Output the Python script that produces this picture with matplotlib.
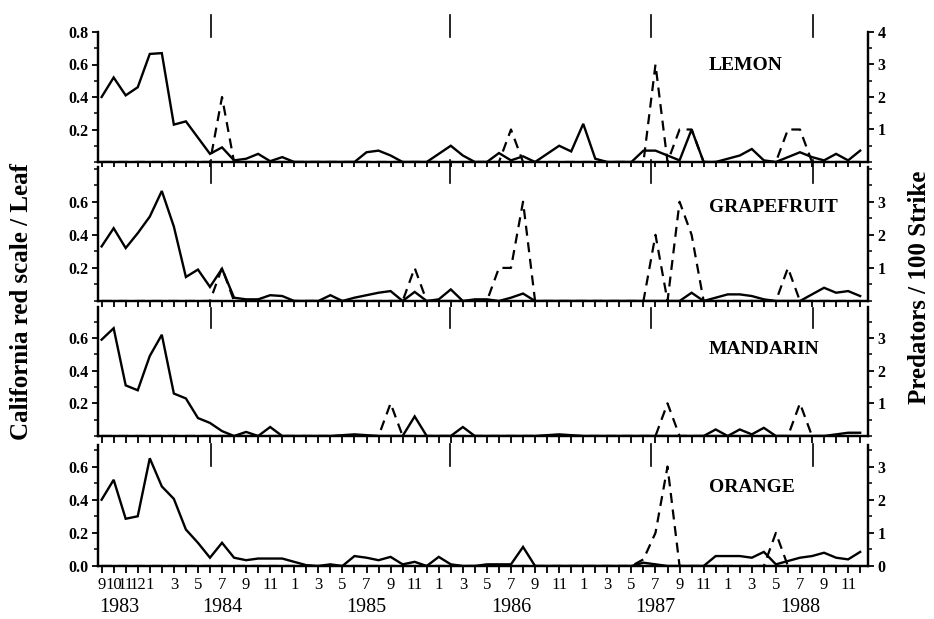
import matplotlib
matplotlib.use("Agg")
import matplotlib.pyplot as plt
import matplotlib.transforms as mtransforms
from matplotlib.ticker import MultipleLocator, FixedLocator
import numpy as np

plt.rcParams['font.family'] = ['Liberation Serif', 'DejaVu Serif']

# months from Sept 1983 (index 0) to Dec 1988 (index 63)
months = np.arange(64)
month_num = [(8 + i) % 12 + 1 for i in months]
year_pos = [1.5, 10, 22, 34, 46, 58]
year_labels = ["1983", "1984", "1985", "1986", "1987", "1988"]
release_marks = [9.1, 28.9, 45.6, 59.1]

crops = ["LEMON", "GRAPEFRUIT", "MANDARIN", "ORANGE"]

# California red scale / leaf (left axis)
lemon_scale = [0.40, 0.52, 0.41, 0.46, 0.665, 0.67, 0.23, 0.25, 0.15, 0.05,
               0.09, 0.01, 0.02, 0.05, 0.005, 0.03, 0.0, 0.0, 0.0, 0.0,
               0.0, 0.0, 0.06, 0.07, 0.04, 0.0, 0.0, 0.0, 0.05, 0.10,
               0.04, 0.0, 0.0, 0.055, 0.01, 0.035, 0.0, 0.05, 0.10, 0.065,
               0.235, 0.02, 0.0, 0.0, 0.0, 0.07, 0.07, 0.04, 0.01, 0.20,
               0.0, 0.0, 0.02, 0.04, 0.08, 0.01, 0.0, 0.03, 0.06, 0.03,
               0.01, 0.05, 0.01, 0.07]
grapefruit_scale = [0.33, 0.44, 0.32, 0.41, 0.51, 0.665, 0.45, 0.145, 0.19, 0.085,
                    0.195, 0.02, 0.01, 0.01, 0.035, 0.03, 0.0, 0.0, 0.0, 0.035,
                    0.0, 0.02, 0.035, 0.05, 0.06, 0.0, 0.055, 0.0, 0.01, 0.07,
                    0.0, 0.01, 0.01, 0.0, 0.02, 0.045, 0.0, 0.0, 0.0, 0.0,
                    0.0, 0.0, 0.0, 0.0, 0.0, 0.0, 0.0, 0.0, 0.0, 0.05,
                    0.0, 0.02, 0.04, 0.04, 0.03, 0.01, 0.0, 0.0, 0.0, 0.04,
                    0.08, 0.05, 0.06, 0.03]
mandarin_scale = [0.59, 0.66, 0.31, 0.28, 0.49, 0.62, 0.26, 0.23, 0.11, 0.08,
                  0.03, 0.0, 0.025, 0.0, 0.055, 0.0, 0.0, 0.0, 0.0, 0.0,
                  0.005, 0.01, 0.005, 0.0, 0.0, 0.0, 0.12, 0.0, 0.0, 0.0,
                  0.055, 0.0, 0.0, 0.0, 0.0, 0.0, 0.0, 0.005, 0.01, 0.005,
                  0.0, 0.0, 0.0, 0.0, 0.0, 0.0, 0.0, 0.0, 0.0, 0.0,
                  0.0, 0.04, 0.0, 0.04, 0.01, 0.05, 0.0, 0.0, 0.0, 0.0,
                  0.0, 0.01, 0.02, 0.02]
orange_scale = [0.40, 0.52, 0.285, 0.30, 0.65, 0.48, 0.405, 0.22, 0.14, 0.05,
                0.14, 0.05, 0.035, 0.045, 0.045, 0.045, 0.025, 0.005, 0.0, 0.01,
                0.0, 0.06, 0.05, 0.035, 0.055, 0.01, 0.025, 0.0, 0.055, 0.01,
                0.0, 0.0, 0.01, 0.01, 0.01, 0.115, 0.0, 0.0, 0.0, 0.0,
                0.0, 0.0, 0.0, 0.0, 0.0, 0.02, 0.01, 0.0, 0.0, 0.0,
                0.0, 0.06, 0.06, 0.06, 0.05, 0.085, 0.01, 0.03, 0.05, 0.06,
                0.08, 0.05, 0.04, 0.085]

# predators / 100 strike (right axis)
lemon_pred = [0, 0, 0, 0, 0, 0, 0, 0, 0, 0,
              2, 0, 0, 0, 0, 0, 0, 0, 0, 0,
              0, 0, 0, 0, 0, 0, 0, 0, 0, 0,
              0, 0, 0, 0, 1, 0, 0, 0, 0, 0,
              0, 0, 0, 0, 0, 0, 3, 0, 1, 1,
              0, 0, 0, 0, 0, 0, 0, 1, 1, 0,
              0, 0, 0, 0]
grapefruit_pred = [0, 0, 0, 0, 0, 0, 0, 0, 0, 0,
                   1, 0, 0, 0, 0, 0, 0, 0, 0, 0,
                   0, 0, 0, 0, 0, 0, 1, 0, 0, 0,
                   0, 0, 0, 1, 1, 3, 0, 0, 0, 0,
                   0, 0, 0, 0, 0, 0, 2, 0, 3, 2,
                   0, 0, 0, 0, 0, 0, 0, 1, 0, 0,
                   0, 0, 0, 0]
mandarin_pred = [0, 0, 0, 0, 0, 0, 0, 0, 0, 0,
                 0, 0, 0, 0, 0, 0, 0, 0, 0, 0,
                 0, 0, 0, 0, 1, 0, 0, 0, 0, 0,
                 0, 0, 0, 0, 0, 0, 0, 0, 0, 0,
                 0, 0, 0, 0, 0, 0, 0, 1, 0, 0,
                 0, 0, 0, 0, 0, 0, 0, 0, 1, 0,
                 0, 0, 0, 0]
orange_pred = [0, 0, 0, 0, 0, 0, 0, 0, 0, 0,
               0, 0, 0, 0, 0, 0, 0, 0, 0, 0,
               0, 0, 0, 0, 0, 0, 0, 0, 0, 0,
               0, 0, 0, 0, 0, 0, 0, 0, 0, 0,
               0, 0, 0, 0, 0, 0.2, 1, 3, 0, 0,
               0, 0, 0, 0, 0, 0, 1, 0, 0, 0,
               0, 0, 0, 0]

scales = [lemon_scale, grapefruit_scale, mandarin_scale, orange_scale]
preds = [lemon_pred, grapefruit_pred, mandarin_pred, orange_pred]

# layout in pixels (top, bottom) for each panel
W, H = 934, 619
panel_px = [(32, 162), (167, 301), (307, 436), (445, 566)]
ytops = [0.8, 0.81, 0.79, 0.73]
left_labels = [[0.2, 0.4, 0.6, 0.8], [0.2, 0.4, 0.6], [0.2, 0.4, 0.6], [0.0, 0.2, 0.4, 0.6]]
right_labels = [[1, 2, 3, 4], [1, 2, 3], [1, 2, 3], [0, 1, 2, 3]]
mark_span = [(1.13, 0.96), (1.05, 0.88), (0.99, 0.84), (1.01, 0.83)]
name_y = [0.746, 0.70, 0.667, 0.645]

fig = plt.figure(figsize=(W / 100, H / 100), dpi=100)
x0, x1 = 98, 868

for k in range(4):
    top, bot = panel_px[k]
    ax = fig.add_axes([x0 / W, 1 - bot / H, (x1 - x0) / W, (bot - top) / H])
    ax2 = ax.twinx()

    ax.plot(months, scales[k], color='black', lw=1.7, solid_joinstyle='miter', zorder=3)
    ax2.plot(months, preds[k], color='black', lw=1.6, linestyle=(0, (4.5, 3)), zorder=2)

    ax.set_xlim(-0.3, 63.65)
    ax.set_ylim(0, ytops[k])
    ax2.set_ylim(0, ytops[k] * 5)

    for a in (ax, ax2):
        a.spines['top'].set_visible(False)
        for s in ('left', 'right', 'bottom'):
            a.spines[s].set_linewidth(1.6)

    ax.set_yticks(left_labels[k])
    ax.set_yticklabels(["%.1f" % v for v in left_labels[k]], fontweight='bold', fontsize=11.5)
    ax.yaxis.set_minor_locator(MultipleLocator(0.1))
    ax2.set_yticks(right_labels[k])
    ax2.set_yticklabels([str(v) for v in right_labels[k]], fontweight='bold', fontsize=11.5)
    ax2.yaxis.set_minor_locator(MultipleLocator(0.5))
    ax.tick_params(axis='y', which='major', length=4, width=1.3, pad=3)
    ax.tick_params(axis='y', which='minor', length=3, width=1.1)
    ax2.tick_params(axis='y', which='major', length=4, width=1.3, pad=3)
    ax2.tick_params(axis='y', which='minor', length=3, width=1.1)

    ax.xaxis.set_major_locator(FixedLocator(months))
    ax.tick_params(axis='x', which='major', length=5, width=1.3, direction='out', pad=3)
    if k == 3:
        labels = [str(m) if (i < 5 or m % 2 == 1) else "" for i, m in zip(months, month_num)]
        ax.set_xticklabels(labels, fontsize=12)
        trans_year = mtransforms.blended_transform_factory(ax.transData, fig.transFigure)
        for xp, yl in zip(year_pos, year_labels):
            ax.text(xp, 1 - 607 / H, yl, transform=trans_year, ha='center', va='center',
                    fontsize=14.5)
    else:
        ax.set_xticklabels([])

    trans = mtransforms.blended_transform_factory(ax.transData, ax.transAxes)
    for xm in release_marks:
        ax.plot([xm, xm], mark_span[k], transform=trans, color='black', lw=1.2, clip_on=False)

    ax.text(0.7935, name_y[k], crops[k], transform=ax.transAxes, ha='left', va='center',
            fontsize=14, fontweight='bold')

fig.text(22 / W, 1 - 302 / H, "California red scale / Leaf", rotation=90, ha='center',
         va='center', fontsize=18, fontweight='bold')
fig.text(919 / W, 1 - 287 / H, "Predators / 100 Strike", rotation=90, ha='center',
         va='center', fontsize=18, fontweight='bold')

fig.savefig("out.png", dpi=100)
